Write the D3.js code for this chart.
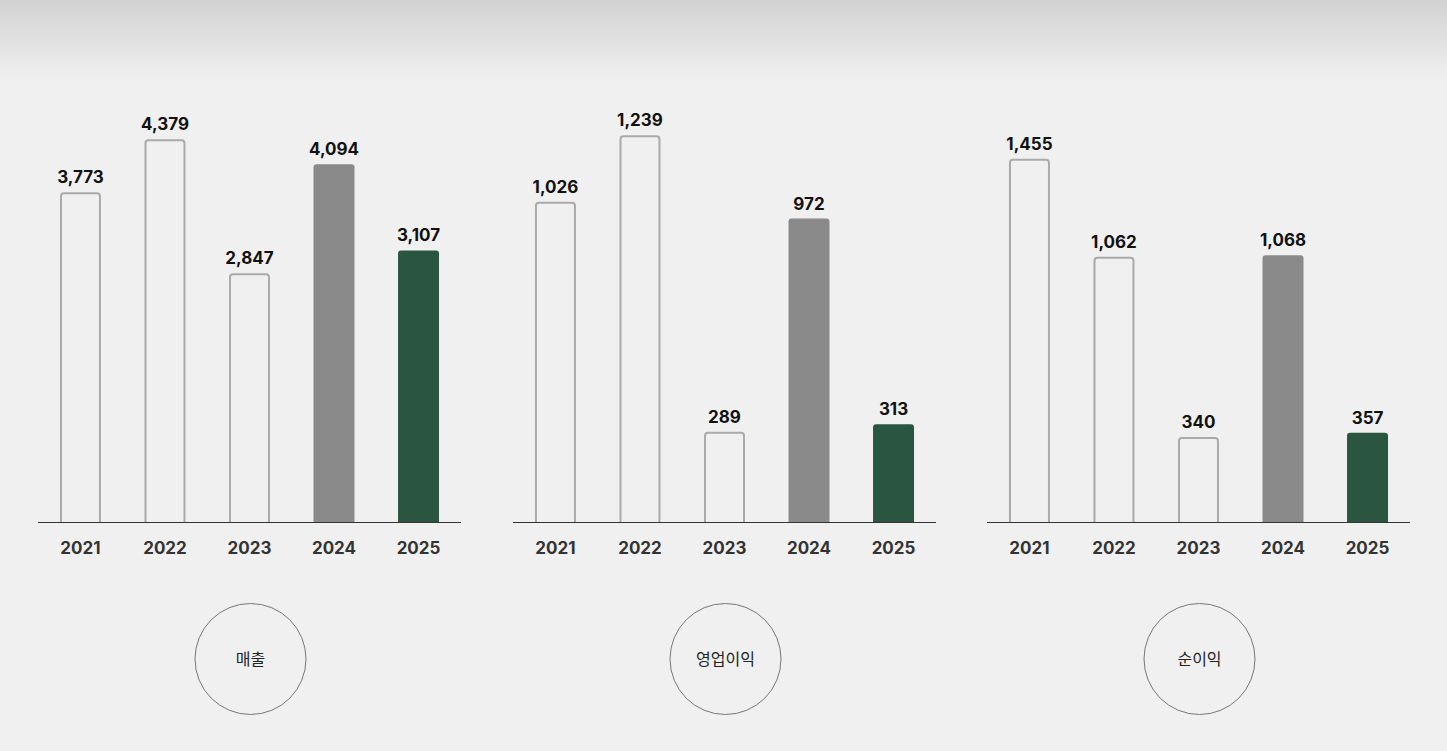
<!DOCTYPE html>
<html>
<head>
<meta charset="UTF-8">
<script src="https://cdn.jsdelivr.net/npm/d3@7"></script>
<style>
	html, body {
		margin: 0;
		padding: 0;
		background: #f0f0f0;
	}
	svg {
		display: block;
	}
	.val {
		font-family: Inter, "Noto Sans", sans-serif;
		font-weight: 700;
		font-size: 17px;
		fill: #111;
	}
	.year {
		font-family: Inter, "Noto Sans", sans-serif;
		font-weight: 700;
		font-size: 17px;
		fill: #333;
	}
	.title {
		font-family: "Noto Sans CJK KR", sans-serif;
		font-size: 16px;
		fill: #222;
	}
</style>
</head>
<body>
<script>
	const years = ['2021', '2022', '2023', '2024', '2025'];
	const titles = ['매출', '영업이익', '순이익'];
	const sales = [3773, 4379, 2847, 4094, 3107];
	const operatingProfit = [1026, 1239, 289, 972, 313];
	const netProfit = [1455, 1062, 340, 1068, 357];
	const domainMax = [5000, 1400, 1750];

	const series = [sales, operatingProfit, netProfit];

	const width = 1447;
	const height = 751;
	const format = d3.format(',');

	const svg = d3.select('body')
		.append('svg')
		.attr('width', width)
		.attr('height', height);

	// top fade
	const grad = svg.append('defs')
		.append('linearGradient')
		.attr('id', 'topfade')
		.attr('x1', 0).attr('y1', 0)
		.attr('x2', 0).attr('y2', 1);
	grad.append('stop').attr('offset', '0%').attr('stop-color', '#d2d2d2');
	grad.append('stop').attr('offset', '100%').attr('stop-color', '#f0f0f0');

	svg.append('rect')
		.attr('width', width)
		.attr('height', 80)
		.attr('fill', 'url(#topfade)');

	const panelX = [38, 513, 987];
	const panelW = 423;
	const baseY = 522;
	const chartH = 437;

	const x = d3.scaleBand()
		.domain(years)
		.range([0, panelW])
		.paddingInner(0.515)
		.paddingOuter(0.26);

	const fills = ['none', 'none', 'none', '#8a8a8a', '#2a5540'];

	series.forEach((values, i) => {
		const y = d3.scaleLinear()
			.domain([0, domainMax[i]])
			.range([baseY, baseY - chartH]);

		const g = svg.append('g')
			.attr('transform', `translate(${panelX[i]},0)`);

		g.selectAll('rect.bar')
			.data(values)
			.enter().append('rect')
				.attr('class', 'bar')
				.attr('x', (d, j) => x(years[j]) + (j < 3 ? 1 : 0))
				.attr('y', d => y(d) + (fills[values.indexOf(d)] === 'none' ? 1 : 0))
				.attr('width', (d, j) => x.bandwidth() - (j < 3 ? 2 : 0))
				.attr('height', (d, j) => baseY - y(d) + 4 - (j < 3 ? 1 : 0))
				.attr('rx', 3)
				.attr('fill', (d, j) => fills[j])
				.attr('stroke', (d, j) => j < 3 ? '#aaaaaa' : 'none')
				.attr('stroke-width', 2);

		// clip bottom of bars under the axis
		g.append('rect')
			.attr('x', 0)
			.attr('y', baseY + 0.5)
			.attr('width', panelW)
			.attr('height', 6)
			.attr('fill', '#f0f0f0');

		g.append('line')
			.attr('x1', 0)
			.attr('x2', panelW)
			.attr('y1', baseY + 0.5)
			.attr('y2', baseY + 0.5)
			.attr('stroke', '#333')
			.attr('stroke-width', 1.2);

		g.selectAll('text.val')
			.data(values)
			.enter().append('text')
				.attr('class', 'val')
				.attr('x', (d, j) => x(years[j]) + x.bandwidth() / 2)
				.attr('y', d => y(d) - 9)
				.attr('text-anchor', 'middle')
				.text(d => format(d));

		g.selectAll('text.year')
			.data(years)
			.enter().append('text')
				.attr('class', 'year')
				.attr('x', d => x(d) + x.bandwidth() / 2)
				.attr('y', 554)
				.attr('text-anchor', 'middle')
				.text(d => d);

		g.append('circle')
			.attr('cx', panelW / 2 + 1)
			.attr('cy', 659)
			.attr('r', 55.5)
			.attr('fill', 'none')
			.attr('stroke', '#777')
			.attr('stroke-width', 1);

		g.append('text')
			.attr('class', 'title')
			.attr('x', panelW / 2 + 1)
			.attr('y', 659)
			.attr('dy', '0.35em')
			.attr('text-anchor', 'middle')
			.text(titles[i]);
	});
</script>
</body>
</html>
